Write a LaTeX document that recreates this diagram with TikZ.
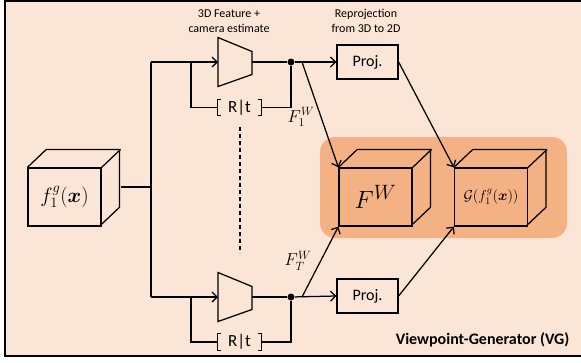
\documentclass[tikz,border=0pt]{standalone}
\usepackage{amsmath,bm}
\usepackage{fontspec}
\setmainfont{Carlito}
\usetikzlibrary{arrows.meta}
\definecolor{bgc}{HTML}{FBE5D6}
\definecolor{hlc}{HTML}{F4B183}
\tikzset{
  face/.style={draw, minimum width=73pt, minimum height=58pt, inner sep=0pt},
  projbox/.style={draw, minimum width=61pt, minimum height=34pt, inner sep=0pt, font=\fontsize{16}{16}\selectfont},
  rtbox/.style={minimum width=43pt, minimum height=15pt, inner sep=0pt, font=\fontsize{17}{17}\selectfont},
  jdot/.style={circle, fill=black, minimum size=7pt, inner sep=0pt},
  captext/.style={align=center, font=\fontsize{12}{15.5}\selectfont},
  lbl/.style={font=\fontsize{17.28}{17.28}\selectfont, inner sep=0pt},
  arr/.style={->},
}
\newcommand{\cubeback}[1]{%
  \draw (#1.north west) -- ++(19,-18) -- ++(73,0) -- ++(0,58) -- ++(-19,18);
  \draw (#1.north east) -- ++(19,-18);}
\newcommand{\trapez}[2]{% #1 = left-middle x, #2 = middle y
  \draw (#1,#2-24.5) -- (#1+34,#2-10.5) -- (#1+34,#2+12.5) -- (#1,#2+24.5) -- cycle;}
\newcommand{\rtbrackets}[1]{%
  \draw (#1.north west) ++(4,0) -- (#1.north west) -- (#1.south west) -- ++(4,0);
  \draw (#1.north east) ++(-4,0) -- (#1.north east) -- (#1.south east) -- ++(-4,0);}
\begin{document}
\begin{tikzpicture}[x=1pt, y=-1pt, line width=1.25pt, line join=miter,
  >={Straight Barb[length=5pt, width=10pt, line width=1.25pt]}]
\useasboundingbox (0,0) rectangle (581,362);
\fill[bgc] (5,1) rectangle (581,356);
\draw[line width=2.6pt] (581,1) -- (5,1) -- (5,356) -- (581,356);
\fill[hlc, rounded corners=15pt] (320,137) rectangle (567,238);

% cubes
\node[face] (c1) at (64.5,197) {\fontsize{20.74}{21}\selectfont$f_1^{g}(\bm{x})$};
\cubeback{c1}
\node[face] (c2) at (375.5,197) {\fontsize{24.88}{25}\selectfont$F^{W}$};
\cubeback{c2}
\node[face] (c3) at (491,197) {\fontsize{14.4}{14.4}\selectfont$\mathcal{G}(f_1^{g}(\bm{x}))$};
\cubeback{c3}

% captions
\node[captext] (capA) at (229,21) {3D Feature +\\camera estimate};
\node[captext] (capB) at (366,21) {Reprojection\\from 3D to 2D};

% trapezoids
\trapez{218}{62}
\coordinate (t1in) at (218,62);
\coordinate (t1out) at (252,62);
\trapez{218}{297}
\coordinate (t2in) at (218,297);
\coordinate (t2out) at (252,297);

% junctions
\node[jdot] (d1) at (291,62) {};
\node[jdot] (d2) at (291,297) {};
\coordinate (s1) at (302,62);
\coordinate (s2) at (302,297);

% R|t
\node[rtbox] (rt1) at (239.5,107.5) {R|t};
\rtbrackets{rt1}
\node[rtbox] (rt2) at (239.5,342) {R|t};
\rtbrackets{rt2}

% proj boxes
\node[projbox] (p1) at (367.5,62) {Proj.};
\node[projbox] (p2) at (367.5,296) {Proj.};

% input split
\coordinate (c1out) at (121,187);
\coordinate (sp) at (151,187);
\coordinate (spT) at (151,62);
\coordinate (spB) at (151,297);
\draw (c1out) -- (sp);
\draw (spT) -- (spB);
\draw[arr] (spT) -- (t1in);
\draw[arr] (spB) -- (t2in);
\draw (t1out) -- (d1);
\draw (t2out) -- (d2);
\coordinate (fb1) at (191,62);
\coordinate (fb2) at (191,297);
\draw (fb1) |- (rt1.west);
\draw (rt1.east) -| (d1);
\draw (fb2) |- (rt2.west);
\draw (rt2.east) -| (d2);

\draw[arr] (d1) -- (p1.west);
\draw[arr] (d2) -- (p2.west);
\draw[arr] (s1) -- (c2.north west);
\draw[arr] (s2) -- (c2.south west);
\draw[arr] (p1.east) -- (c3.north west);
\draw[arr] (p2.east) -- (c3.south west);

% dashed
\coordinate (da) at (240,127);
\coordinate (db) at (240,253);
\draw[dash pattern=on 4pt off 3pt] (da) -- (db);

% labels
\node[lbl] (l1) at (301,117) {$F_1^{W}$};
\node[lbl] (l2) at (298,261) {$F_T^{W}$};
\node[anchor=east, font=\bfseries\fontsize{16}{16}\selectfont, inner sep=0pt] (vg) at (570,340) {Viewpoint-Generator (VG)};
\end{tikzpicture}
\end{document}
